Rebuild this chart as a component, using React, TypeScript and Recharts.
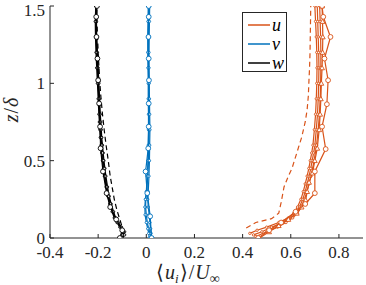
import { ScatterChart, Scatter, XAxis, YAxis, Legend } from "recharts";

const orange = "#D95319";
const blue = "#0072BD";
const black = "#000000";
const axisColor = "#262626";
const font = '"Liberation Serif", serif';

const xTicks = [-0.4, -0.2, 0, 0.2, 0.4, 0.6, 0.8];
const zTicks = [0, 0.5, 1, 1.5];

// streamwise component u
const uDashZ = [0.065, 0.1, 0.125, 0.16, 0.23, 0.33, 0.4, 0.45, 0.55, 0.65, 0.75, 0.83, 0.92, 1.0, 1.1, 1.2, 1.3, 1.4, 1.5];
const uDashX = [0.415, 0.455, 0.52, 0.55, 0.56, 0.572, 0.59, 0.605, 0.625, 0.645, 0.66, 0.668, 0.673, 0.675, 0.678, 0.68, 0.681, 0.682, 0.683];
const uCircZ = [0, 0.05, 0.1, 0.17, 0.22, 0.29, 0.43, 0.575, 0.72, 0.865, 1.02, 1.16, 1.3, 1.43, 1.5];
const uCircX = [0.465, 0.51, 0.56, 0.62, 0.66, 0.7, 0.7, 0.745, 0.73, 0.75, 0.755, 0.74, 0.765, 0.735, 0.73];
const uTriZ = [0, 0.04, 0.08, 0.12, 0.16, 0.2, 0.245, 0.3, 0.36, 0.42, 0.5, 0.58, 0.7, 0.8, 0.9, 1.0, 1.1, 1.2, 1.3, 1.4, 1.5];
const uTriX = [0.47, 0.51, 0.55, 0.59, 0.625, 0.645, 0.662, 0.668, 0.676, 0.69, 0.7, 0.71, 0.718, 0.722, 0.725, 0.727, 0.73, 0.732, 0.733, 0.732, 0.73];
const uB1Z = [0.03, 0.05, 0.07, 0.1, 0.13, 0.16, 0.2, 0.25, 0.3, 0.35, 0.4, 0.45, 0.5, 0.55, 0.6, 0.7, 0.8, 0.9, 1.0, 1.1, 1.2, 1.3, 1.4, 1.5];
const uB1X = [0.43, 0.46, 0.5, 0.55, 0.59, 0.612, 0.628, 0.642, 0.652, 0.66, 0.668, 0.675, 0.681, 0.687, 0.692, 0.698, 0.703, 0.706, 0.708, 0.709, 0.708, 0.706, 0.703, 0.7];
const uB2Z = [0.02, 0.04, 0.07, 0.1, 0.13, 0.16, 0.2, 0.25, 0.3, 0.35, 0.4, 0.45, 0.5, 0.55, 0.6, 0.7, 0.8, 0.9, 1.0, 1.1, 1.2, 1.3, 1.4, 1.5];
const uB2X = [0.445, 0.48, 0.52, 0.565, 0.6, 0.62, 0.636, 0.65, 0.66, 0.668, 0.676, 0.683, 0.689, 0.695, 0.7, 0.706, 0.711, 0.714, 0.716, 0.717, 0.716, 0.714, 0.712, 0.71];
const uB3Z = [0.01, 0.04, 0.07, 0.1, 0.13, 0.16, 0.2, 0.25, 0.3, 0.35, 0.4, 0.5, 0.6, 0.7, 0.8, 0.9, 1.0, 1.1, 1.2, 1.3, 1.4, 1.5];
const uB3X = [0.455, 0.5, 0.545, 0.58, 0.608, 0.628, 0.643, 0.657, 0.667, 0.676, 0.684, 0.697, 0.707, 0.714, 0.719, 0.722, 0.724, 0.725, 0.725, 0.724, 0.722, 0.72];

// spanwise component v
const vZ = [0, 0.03, 0.06, 0.1, 0.15, 0.2, 0.25, 0.3, 0.4, 0.5, 0.6, 0.7, 0.8, 0.9, 1.0, 1.1, 1.2, 1.3, 1.4, 1.5];
const vB1X = [0.02, 0.016, 0.01, 0.004, 0.0, -0.003, -0.002, 0.002, 0.006, 0.009, 0.01, 0.011, 0.011, 0.01, 0.01, 0.009, 0.008, 0.008, 0.009, 0.01];
const vB2X = [0.012, 0.01, 0.006, 0.0, -0.005, -0.006, -0.004, 0.0, 0.004, 0.007, 0.008, 0.009, 0.009, 0.008, 0.008, 0.007, 0.006, 0.006, 0.007, 0.008];
const vB3X = [0.024, 0.02, 0.018, 0.015, 0.012, 0.008, 0.006, 0.008, 0.011, 0.013, 0.014, 0.015, 0.014, 0.013, 0.012, 0.011, 0.011, 0.012, 0.013, 0.014];
const vCircZ = [0, 0.14, 0.29, 0.43, 0.58, 0.72, 0.87, 1.02, 1.16, 1.3, 1.43, 1.5];
const vCircX = [0.022, 0.016, 0.004, -0.003, 0.008, 0.01, 0.01, 0.011, 0.01, 0.009, 0.01, 0.01];

// vertical component w
const wZ = [0, 0.02, 0.04, 0.07, 0.1, 0.13, 0.17, 0.22, 0.27, 0.33, 0.4, 0.45, 0.5, 0.55, 0.6, 0.65, 0.7, 0.75, 0.8, 0.9, 1.0, 1.1, 1.2, 1.3, 1.4, 1.5];
const wB1X = [-0.105, -0.095, -0.09, -0.103, -0.116, -0.127, -0.136, -0.146, -0.154, -0.161, -0.168, -0.172, -0.176, -0.179, -0.182, -0.185, -0.187, -0.189, -0.191, -0.194, -0.197, -0.2, -0.203, -0.206, -0.207, -0.207];
const wB2X = [-0.11, -0.1, -0.097, -0.11, -0.122, -0.133, -0.142, -0.152, -0.16, -0.167, -0.174, -0.178, -0.182, -0.185, -0.188, -0.191, -0.193, -0.195, -0.197, -0.2, -0.203, -0.206, -0.209, -0.211, -0.212, -0.21];
const wB3X = [-0.1, -0.09, -0.095, -0.106, -0.119, -0.13, -0.139, -0.149, -0.157, -0.164, -0.171, -0.175, -0.179, -0.182, -0.185, -0.188, -0.19, -0.192, -0.194, -0.197, -0.2, -0.203, -0.206, -0.208, -0.209, -0.208];
const wDashZ = [0.03, 0.07, 0.12, 0.18, 0.25, 0.33, 0.4, 0.5, 0.6, 0.7, 0.8, 0.9, 1.0, 1.2, 1.4, 1.5];
const wDashX = [-0.095, -0.1, -0.11, -0.122, -0.133, -0.142, -0.15, -0.158, -0.167, -0.175, -0.182, -0.188, -0.193, -0.2, -0.205, -0.205];
const wCircZ = [0, 0.05, 0.12, 0.2, 0.29, 0.43, 0.58, 0.72, 0.87, 1.02, 1.16, 1.3, 1.43, 1.5];
const wCircX = [-0.11, -0.1, -0.125, -0.15, -0.165, -0.18, -0.19, -0.192, -0.196, -0.2, -0.203, -0.207, -0.208, -0.205];

const legendItems = [
  { label: "u", color: orange },
  { label: "v", color: blue },
  { label: "w", color: black },
];

const pts = (xs: number[], zs: number[]) => zs.map((z, i) => ({ x: xs[i], z }));

type Marker = "circle" | "tri" | "dot" | "none";

const series: { id: string; data: { x: number; z: number }[]; color: string; dash?: boolean; marker: Marker }[] = [
  { id: "uDash", data: pts(uDashX, uDashZ), color: orange, dash: true, marker: "none" },
  { id: "uB1", data: pts(uB1X, uB1Z), color: orange, marker: "dot" },
  { id: "uB2", data: pts(uB2X, uB2Z), color: orange, marker: "dot" },
  { id: "uB3", data: pts(uB3X, uB3Z), color: orange, marker: "dot" },
  { id: "uTri", data: pts(uTriX, uTriZ), color: orange, marker: "tri" },
  { id: "uCirc", data: pts(uCircX, uCircZ), color: orange, marker: "circle" },
  { id: "vB1", data: pts(vB1X, vZ), color: blue, marker: "dot" },
  { id: "vB2", data: pts(vB2X, vZ), color: blue, marker: "dot" },
  { id: "vB3", data: pts(vB3X, vZ), color: blue, marker: "dot" },
  { id: "vCirc", data: pts(vCircX, vCircZ), color: blue, marker: "circle" },
  { id: "wDash", data: pts(wDashX, wDashZ), color: black, dash: true, marker: "none" },
  { id: "wB1", data: pts(wB1X, wZ), color: black, marker: "dot" },
  { id: "wB2", data: pts(wB2X, wZ), color: black, marker: "dot" },
  { id: "wB3", data: pts(wB3X, wZ), color: black, marker: "dot" },
  { id: "wCirc", data: pts(wCircX, wCircZ), color: black, marker: "circle" },
];

const makeShape = (marker: Marker, color: string) => (props: any) => {
  const { cx, cy } = props;
  if (marker === "none") return <g />;
  if (marker === "tri") {
    const r = 2.4;
    return (
      <path
        d={`M${cx},${cy - r} L${cx + r},${cy + r * 0.8} L${cx - r},${cy + r * 0.8} Z`}
        fill="#fff"
        stroke={color}
        strokeWidth={0.9}
      />
    );
  }
  const r = marker === "circle" ? 2.4 : 1.2;
  return <circle cx={cx} cy={cy} r={r} fill="#fff" stroke={color} strokeWidth={0.9} />;
};

const LegendBox = () => (
  <div
    style={{
      width: 45,
      height: 60,
      boxSizing: "border-box",
      border: `1.5px solid ${axisColor}`,
      background: "#fff",
      fontFamily: font,
      fontStyle: "italic",
      fontSize: 18,
    }}
  >
    {legendItems.map((it) => (
      <div key={it.label} style={{ display: "flex", alignItems: "center", height: 19, marginTop: it.label === "u" ? 2 : 0 }}>
        <svg width={28} height={10}>
          <line x1={5} y1={5} x2={27} y2={5} stroke={it.color} strokeWidth={1.5} />
        </svg>
        <span style={{ marginLeft: 1, lineHeight: "16px" }}>{it.label}</span>
      </div>
    ))}
  </div>
);

// label glyphs spread out like the LaTeX-typeset original
const XLabel = (props: any) => {
  const { x, y } = props.viewBox;
  const x0 = x + 106;
  const base = y + 41;
  return (
    <text x={x0} y={base} fill={axisColor} style={{ fontFamily: font }} fontSize={20}>
      <tspan>⟨</tspan>
      <tspan fontStyle="italic" dx={1}>u</tspan>
      <tspan fontStyle="italic" fontSize={13} dy={4}>i</tspan>
      <tspan dy={-4} dx={1}>⟩</tspan>
      <tspan dx={1}>/</tspan>
      <tspan fontStyle="italic" dx={1}>U</tspan>
      <tspan fontSize={14} dy={4}>∞</tspan>
    </text>
  );
};

const YLabel = () => (
  <text x={0} y={0} transform="translate(18,110) rotate(-90)" textAnchor="middle" fill={axisColor} style={{ fontFamily: font }} fontSize={20}>
    <tspan fontStyle="italic">z</tspan>
    <tspan dx={1}>/</tspan>
    <tspan fontStyle="italic" dx={1}>δ</tspan>
  </text>
);

const tickStyle = { fill: axisColor, fontSize: 17, style: { fontFamily: font } };

export default function App() {
  return (
    <div style={{ position: "absolute", left: 0, top: 0, width: 366, height: 285, background: "#fff", fontFamily: font }}>
      <ScatterChart width={366} height={285} margin={{ top: 6, right: 3, bottom: 0, left: 0 }} style={{ fontFamily: font }}>
        <XAxis
          xAxisId="b"
          dataKey="x"
          type="number"
          domain={[-0.4, 0.9]}
          ticks={xTicks}
          allowDataOverflow
          height={47}
          stroke={axisColor}
          tickSize={-4}
          tickMargin={12}
          tick={tickStyle}
          label={<XLabel />}
        />
        <XAxis
          xAxisId="t"
          orientation="top"
          type="number"
          domain={[-0.4, 0.9]}
          ticks={xTicks}
          allowDataOverflow
          height={0}
          stroke={axisColor}
          tickSize={-4}
          tick={false}
        />
        <YAxis
          yAxisId="l"
          dataKey="z"
          type="number"
          domain={[0, 1.5]}
          ticks={zTicks}
          allowDataOverflow
          width={50}
          stroke={axisColor}
          tickSize={-4}
          tickMargin={9}
          tick={tickStyle}
          label={<YLabel />}
        />
        <YAxis
          yAxisId="r"
          orientation="right"
          type="number"
          domain={[0, 1.5]}
          ticks={zTicks}
          allowDataOverflow
          width={0}
          stroke={axisColor}
          tickSize={-4}
          tick={false}
        />
        {series.map((s) => (
          <Scatter
            key={s.id}
            xAxisId="b"
            yAxisId="l"
            data={s.data}
            line={{ stroke: s.color, strokeWidth: 1.2, strokeDasharray: s.dash ? "5 3.5" : undefined }}
            lineType="joint"
            shape={makeShape(s.marker, s.color)}
            isAnimationActive={false}
          />
        ))}
        <Legend
          layout="vertical"
          align="center"
          verticalAlign="middle"
          wrapperStyle={{ position: "absolute", left: 242, top: 12, width: 45, height: 60 }}
          content={<LegendBox />}
        />
      </ScatterChart>
    </div>
  );
}
